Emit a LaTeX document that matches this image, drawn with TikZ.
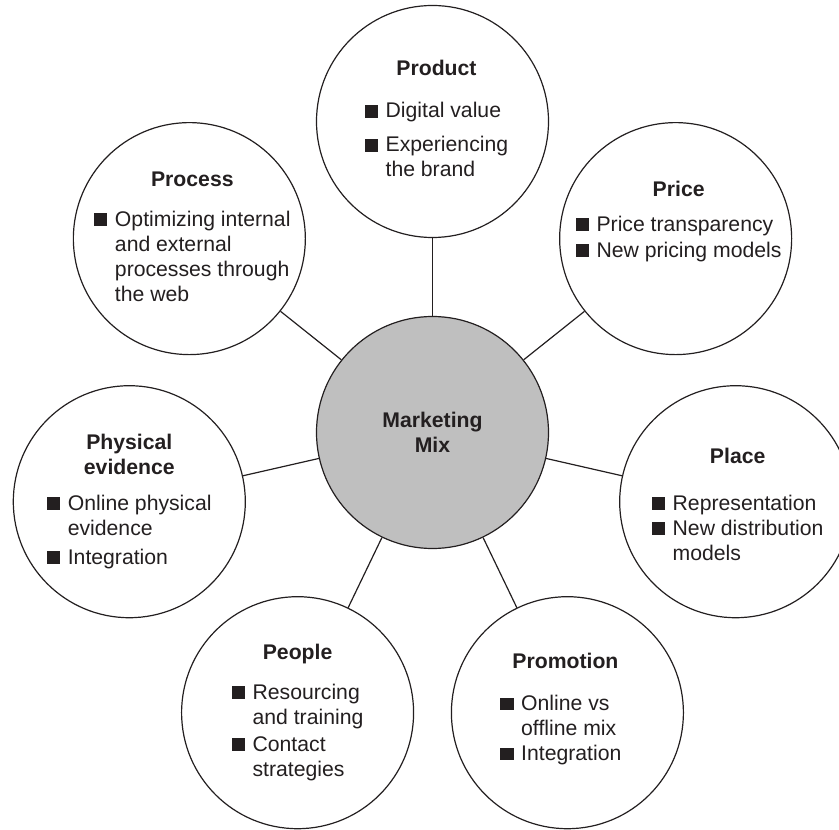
\documentclass[tikz,border=0pt]{standalone}
\usepackage{fontspec}
\setmainfont{Liberation Sans}
\usepackage{array}
\usetikzlibrary{positioning}

\definecolor{inkgray}{RGB}{35,31,32}
\newcommand{\mixsq}{\rule[0.2pt]{6.6pt}{6.2pt}}

\tikzset{
  mixcircle/.style={circle, draw=inkgray, line width=0.6pt, fill=white,
    minimum size=116pt, inner sep=0pt},
  mixtext/.style={font=\fontsize{10.6pt}{12.5pt}\selectfont, text=inkgray, inner sep=0pt},
  mixline/.style={draw=inkgray, line width=0.6pt}
}

\begin{document}
\begin{tikzpicture}
    \clip (-216.25pt,216.25pt) rectangle (203.25pt,-198.25pt);

    % Hub
    \node[mixcircle, fill=black!25, mixtext, align=center] (mix) at (0,0)
        {\bfseries Marketing\\\bfseries Mix};

    % The seven P's round the hub
    \node[mixcircle] (product)   at (90:155.5pt)      {};
    \node[mixcircle] (price)     at (38.57:155.5pt)   {};
    \node[mixcircle] (place)     at (-12.86:155.5pt)  {};
    \node[mixcircle] (promotion) at (-64.29:155.5pt)  {};
    \node[mixcircle] (people)    at (-115.71:155.5pt) {};
    \node[mixcircle] (physical)  at (-167.14:155.5pt) {};
    \node[mixcircle] (process)   at (141.43:155.5pt)  {};

    % Spokes
    \draw[mixline] (mix) -- (product);
    \draw[mixline] (mix) -- (price);
    \draw[mixline] (mix) -- (place);
    \draw[mixline] (mix) -- (promotion);
    \draw[mixline] (mix) -- (people);
    \draw[mixline] (mix) -- (physical);
    \draw[mixline] (mix) -- (process);

    % Texts
    \node[mixtext] (producttxt) at ([xshift=2pt]product.center) {%
        \begin{tabular}{@{}l@{\hspace{3.8pt}}l@{}}
        \multicolumn{2}{c}{\bfseries Product}\\[8.5pt]
        \mixsq & Digital value\\[4.5pt]
        \mixsq & Experiencing\\
               & the brand
        \end{tabular}};
    \node[mixtext] (pricetxt) at ([xshift=1.5pt,yshift=8.5pt]price.center) {%
        \begin{tabular}{@{}l@{\hspace{3.8pt}}l@{}}
        \multicolumn{2}{c}{\bfseries Price}\\[5pt]
        \mixsq & Price transparency\\[0.5pt]
        \mixsq & New pricing models
        \end{tabular}};
    \node[mixtext] (placetxt) at ([xshift=1pt,yshift=-2.5pt]place.center) {%
        \begin{tabular}{@{}l@{\hspace{3.8pt}}l@{}}
        \multicolumn{2}{c}{\bfseries Place}\\[11pt]
        \mixsq & Representation\\
        \mixsq & New distribution\\
               & models
        \end{tabular}};
    \node[mixtext] (promotiontxt) at ([xshift=-1pt,yshift=1.5pt]promotion.center) {%
        \begin{tabular}{@{}l@{\hspace{3.8pt}}l@{}}
        \multicolumn{2}{c}{\bfseries Promotion}\\[8.5pt]
        \mixsq & Online vs\\
               & offline mix\\
        \mixsq & Integration
        \end{tabular}};
    \node[mixtext] (peopletxt) at (people.center) {%
        \begin{tabular}{@{}l@{\hspace{3.8pt}}l@{}}
        \multicolumn{2}{c}{\bfseries People}\\[7.5pt]
        \mixsq & Resourcing\\
               & and training\\[1pt]
        \mixsq & Contact\\
               & strategies
        \end{tabular}};
    \node[mixtext] (physicaltxt) at (physical.center) {%
        \begin{tabular}{@{}l@{\hspace{3.8pt}}l@{}}
        \multicolumn{2}{c}{\bfseries Physical}\\
        \multicolumn{2}{c}{\bfseries evidence}\\[5.5pt]
        \mixsq & Online physical\\
               & evidence\\[2pt]
        \mixsq & Integration
        \end{tabular}};
    \node[mixtext] (processtxt) at ([xshift=1.5pt]process.center) {%
        \begin{tabular}{@{}l@{\hspace{3.8pt}}l@{}}
        \multicolumn{2}{c}{\bfseries Process}\\[7.5pt]
        \mixsq & Optimizing internal\\
               & and external\\
               & processes through\\
               & the web
        \end{tabular}};
\end{tikzpicture}
\end{document}
